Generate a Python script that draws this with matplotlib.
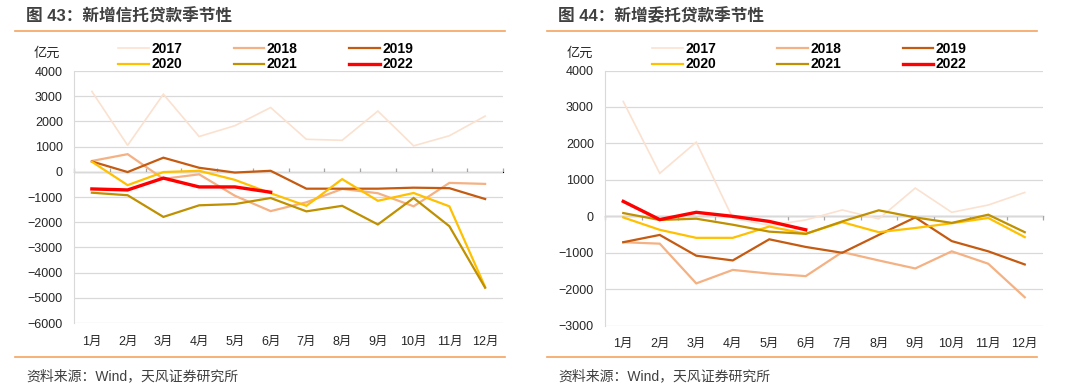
import numpy as np
import matplotlib.pyplot as plt

plt.rcParams['font.family'] = ['Liberation Sans', 'Noto Sans CJK SC', 'DejaVu Sans']

# 数据（亿元）
meses = ['1月', '2月', '3月', '4月', '5月', '6月', '7月', '8月', '9月', '10月', '11月', '12月']
anios = ['2017', '2018', '2019', '2020', '2021', '2022']

# 新增信托贷款
xintuo_2017 = [3190, 1050, 3080, 1400, 1830, 2550, 1290, 1250, 2410, 1030, 1430, 2210]
xintuo_2018 = [430, 700, -280, -100, -950, -1560, -1210, -680, -850, -1370, -440, -480]
xintuo_2019 = [410, -10, 560, 160, -30, 40, -670, -670, -670, -630, -650, -1080]
xintuo_2020 = [400, -530, -10, 40, -320, -850, -1350, -290, -1150, -840, -1370, -4570]
xintuo_2021 = [-830, -930, -1790, -1330, -1280, -1040, -1570, -1350, -2090, -1040, -2160, -4600]
xintuo_2022 = [-680, -720, -250, -600, -600, -810]

# 新增委托贷款
weituo_2017 = [3150, 1180, 2035, -50, -250, -100, 175, -70, 775, 110, 310, 655]
weituo_2018 = [-710, -750, -1840, -1470, -1570, -1640, -980, -1210, -1430, -960, -1300, -2220]
weituo_2019 = [-710, -510, -1080, -1210, -630, -840, -1000, -510, -30, -680, -960, -1320]
weituo_2020 = [-30, -370, -590, -590, -280, -480, -160, -435, -320, -190, -45, -570]
weituo_2021 = [90, -100, -65, -230, -420, -480, -140, 165, -30, -180, 45, -435]
weituo_2022 = [410, -90, 110, 0, -140, -370]

colores = ['#FBE1CF', '#F4B183', '#C55A11', '#FFC000', '#BF9000', '#FF0000']
grosores = [1.2, 1.6, 1.6, 1.6, 1.6, 2.4]

W, H = 1080, 392
fig = plt.figure(figsize=(W / 100, H / 100), dpi=100)


def caja(x0, x1, ytop, ybot):
    return [x0 / W, 1 - ybot / H, (x1 - x0) / W, (ybot - ytop) / H]


def panel(pos, series, ymin, ymax, titulo, ox, oy_text, leg_x, espacio):
    ax = fig.add_axes(pos)
    x = np.arange(1, 13)
    handles = []
    for serie, c, lw, nombre in zip(series, colores, grosores, anios):
        h, = ax.plot(x[:len(serie)], serie, color=c, lw=lw, label=nombre,
                     solid_joinstyle='miter', zorder=3)
        handles.append(h)
    ax.set_xlim(0.5, 12.5)
    ax.set_ylim(ymin, ymax)
    ax.set_yticks(np.arange(ymin, ymax + 1, 1000))
    ax.set_xticks(x)
    ax.set_xticklabels(meses)
    ax.tick_params(axis='both', length=0, labelsize=9, colors='#262626')
    ax.tick_params(axis='x', pad=9)
    ax.tick_params(axis='y', pad=8)
    ax.grid(axis='y', color='#D9D9D9', lw=0.9, zorder=0)
    for s in ['top', 'right', 'bottom']:
        ax.spines[s].set_visible(False)
    ax.spines['left'].set_color('#D9D9D9')
    # eje en cero con marcas entre categorías
    frac0 = (0 - ymin) / (ymax - ymin)
    sec = ax.secondary_xaxis(frac0)
    sec.set_xticks(np.arange(0.5, 13, 1))
    sec.set_xticklabels([])
    sec.tick_params(direction='out', length=3, color='#A6A6A6', width=0.9)
    sec.spines['bottom'].set_color('#A6A6A6')
    sec.spines['bottom'].set_linewidth(1.0)

    orden = [0, 3, 1, 4, 2, 5]
    fig.legend([handles[i] for i in orden], [anios[i] for i in orden],
               ncol=3, loc='upper left', bbox_to_anchor=(leg_x / W, 1 - 42 / H),
               frameon=False, prop={'weight': 'bold', 'size': 10},
               handlelength=2.2, handletextpad=0.2, columnspacing=espacio,
               labelspacing=0.1, borderpad=0, borderaxespad=0)

    fig.text((ox + 26) / W, 1 - 16 / H, titulo, fontsize=12, fontweight='bold',
             color='#404040', va='center', ha='left')
    fig.text((ox + oy_text) / W, 1 - 54 / H, '亿元', fontsize=9.5, color='#262626',
             va='center', ha='center')
    fig.add_artist(plt.Line2D([(ox + 15) / W, (ox + 505) / W], [1 - 31 / H] * 2,
                              color='#F4A460', lw=1.2))
    fig.add_artist(plt.Line2D([(ox + 15) / W, (ox + 505) / W], [1 - 357 / H] * 2,
                              color='#F4A460', lw=1.2))
    fig.text((ox + 26) / W, 1 - 376 / H, '资料来源：Wind，天风证券研究所', fontsize=10,
             color='#404040', va='center', ha='left')


panel(caja(74, 503, 71, 323),
      [xintuo_2017, xintuo_2018, xintuo_2019, xintuo_2020, xintuo_2021, xintuo_2022],
      -6000, 4000, '图 43：新增信托贷款季节性', 0, 47, 118, 3.7)
panel(caja(605, 1043, 70.5, 325.7),
      [weituo_2017, weituo_2018, weituo_2019, weituo_2020, weituo_2021, weituo_2022],
      -3000, 4000, '图 44：新增委托贷款季节性', 532, 48, 652, 4.4)

fig.savefig('out.png', dpi=100, facecolor='white')
